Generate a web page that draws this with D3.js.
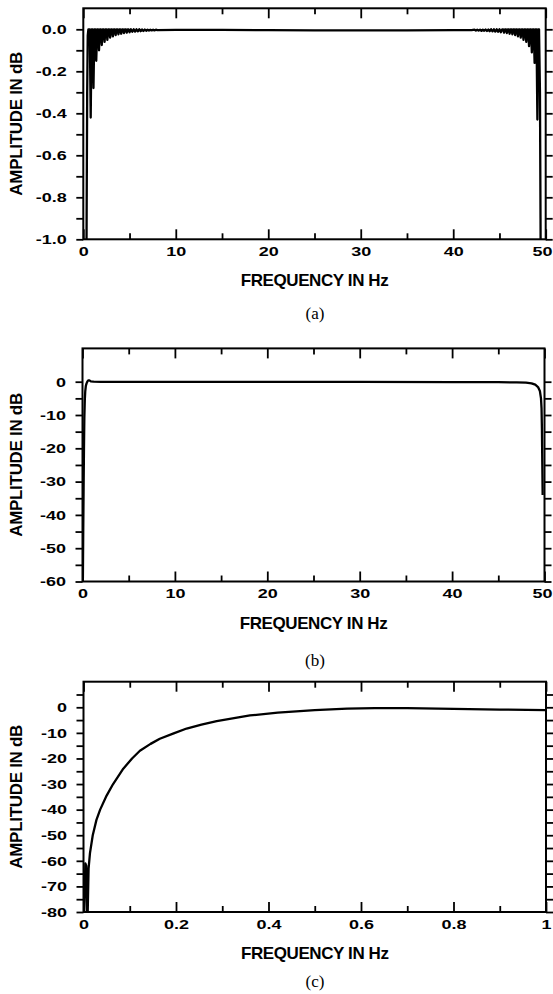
<!DOCTYPE html>
<html>
<head>
<meta charset="utf-8">
<script src="https://cdn.jsdelivr.net/npm/d3@7"></script>
<style>
html,body{margin:0;padding:0;background:#fff;}
svg{display:block;}
</style>
</head>
<body>
<script>
// ---------------- DATA ----------------
// Panel (a): amplitude in dB (zoomed passband)
const freqA = [0.30,0.36,0.42,0.48,0.55,0.70,0.80,0.90,1.00,1.10,1.20,1.30,1.40,1.50,1.60,1.70,1.80,1.90,2.00,2.10,2.20,2.30,2.40,2.50,2.60,2.70,2.80,2.90,3.00,3.10,3.20,3.30,3.40,3.50,3.60,3.70,3.80,3.90,4.00,4.10,4.20,4.30,4.40,4.50,4.60,4.70,4.80,4.90,5.00,5.15,5.30,5.45,5.60,5.75,5.90,6.05,6.20,6.35,6.50,6.65,6.80,6.95,7.10,7.25,7.40,7.55,7.70,7.85,8.00,
  10,15,20,25,30,35,40,42.0,
  42.30,42.45,42.60,42.75,42.90,43.05,43.20,43.35,43.50,43.65,43.80,43.95,44.10,44.25,44.40,44.55,44.70,44.85,45.00,45.15,45.30,45.40,45.50,45.60,45.70,45.80,45.90,46.00,46.10,46.20,46.30,46.40,46.50,46.60,46.70,46.80,46.90,47.00,47.10,47.20,47.30,47.40,47.50,47.60,47.70,47.80,47.90,48.00,48.10,48.20,48.30,48.40,48.50,48.60,48.70,48.80,48.90,49.00,49.10,49.20,49.28,49.38,49.44,49.50];
const dbA = [-1.6,-0.9,-0.3,-0.03,0,0,-0.42,0,0,-0.28,0,0,-0.15,0,0,-0.10,0,0,-0.075,0,0,-0.06,0,0,-0.05,0,0,-0.04,0,0,-0.034,0,0,-0.028,0,0,-0.024,0,0,-0.021,0,0,-0.018,0,0,-0.016,0,0,-0.014,0,-0.012,0,-0.011,0,-0.010,0,-0.009,-0.001,-0.008,-0.001,-0.007,-0.002,-0.006,-0.002,-0.005,-0.002,-0.005,-0.002,-0.004,
  -0.003,-0.003,-0.004,-0.005,-0.005,-0.005,-0.004,-0.004,
  -0.002,-0.006,-0.002,-0.006,-0.002,-0.007,-0.002,-0.007,-0.001,-0.008,-0.001,-0.009,0,-0.010,0,-0.011,0,-0.012,0,-0.014,0,0,-0.016,0,0,-0.018,0,0,-0.021,0,0,-0.024,0,0,-0.028,0,0,-0.034,0,0,-0.04,0,0,-0.05,0,0,-0.06,0,0,-0.08,0,0,-0.11,0,0,-0.16,0,0,-0.43,0,0,-0.3,-0.9,-1.6];

// Panel (b): full amplitude in dB
const freqB = [0.04,0.08,0.12,0.16,0.20,0.25,0.30,0.36,0.44,0.52,0.62,0.75,0.90,1.2,2,5,10,20,30,40,45,47,48,48.6,49.0,49.3,49.5,49.62,49.68,49.72,49.76,49.80];
const dbB = [-60,-45,-32,-20,-11,-5.5,-2.8,-1.3,-0.5,0,0.4,0.4,0.1,0,-0.05,-0.05,-0.05,-0.05,-0.05,-0.1,-0.15,-0.2,-0.3,-0.5,-0.9,-1.6,-2.8,-5,-8,-14,-24,-34];

// Panel (c): amplitude in dB, 0-1 Hz
const freqC = [0.001,0.004,0.006,0.0085,0.011,0.014,0.020,0.028,0.036,0.050,0.064,0.086,0.105,0.122,0.145,0.165,0.195,0.223,0.255,0.288,0.36,0.42,0.50,0.57,0.63,0.70,0.80,0.90,1.00];
const dbC = [-85,-61,-62,-85,-63,-57,-50,-44,-40,-34.5,-30,-24,-20,-17,-14.3,-12.3,-10.2,-8.3,-6.8,-5.4,-3.2,-2.1,-1.1,-0.5,-0.3,-0.35,-0.6,-0.9,-1.1];

// Tick values and labels
const xMajorHz = [0,10,20,30,40,50];
const xMinorHz = [5,15,25,35,45];
const xLabelsHz = ["0","10","20","30","40","50"];
const xMajorC = [0,0.2,0.4,0.6,0.8,1];
const xMinorC = [0.1,0.3,0.5,0.7,0.9];
const xLabelsC = ["0","0.2","0.4","0.6","0.8","1"];

const yMajorA = [0,-0.2,-0.4,-0.6,-0.8,-1.0];
const yMinorA = [-0.1,-0.3,-0.5,-0.7,-0.9];
const yLabelsA = ["0.0","-0.2","-0.4","-0.6","-0.8","-1.0"];
const yMajorB = [0,-10,-20,-30,-40,-50,-60];
const yMinorB = [-5,-15,-25,-35,-45,-55];
const yLabelsB = ["0","-10","-20","-30","-40","-50","-60"];
const yMajorC = [0,-10,-20,-30,-40,-50,-60,-70,-80];
const yMinorC = [5,-5,-15,-25,-35,-45,-55,-65,-75];
const yLabelsC = ["0","-10","-20","-30","-40","-50","-60","-70","-80"];

const xTitle = "FREQUENCY IN Hz";
const yTitle = "AMPLITUDE IN dB";
const captions = ["(a)","(b)","(c)"];

// ---------------- DRAWING ----------------
const W = 553, H = 994;
const svg = d3.select("body").append("svg").attr("width", W).attr("height", H);
svg.append("rect").attr("width", W).attr("height", H).attr("fill", "#fff");
const SANS = "'Liberation Sans', Arial, Helvetica, sans-serif";
const SX = 1.5; // horizontal stretch of tick labels

function panel(o) {
  const x = d3.scaleLinear().domain(o.xDomain).range([o.left, o.right]);
  const y = d3.scaleLinear().domain(o.yDomain).range([o.bottom, o.top]);
  const g = svg.append("g");

  const clipId = "clip" + o.key;
  g.append("clipPath").attr("id", clipId).append("rect")
    .attr("x", o.left).attr("y", o.top)
    .attr("width", o.right - o.left).attr("height", o.bottom - o.top);

  // curve
  g.append("path")
    .datum(d3.zip(o.fx, o.fy))
    .attr("clip-path", `url(#${clipId})`)
    .attr("fill", "none").attr("stroke", "#000")
    .attr("stroke-width", 2.3).attr("stroke-linejoin", "round")
    .attr("d", d3.line().x(d => x(d[0])).y(d => y(d[1])));

  const style = sel => {
    sel.select(".domain").remove();
    sel.selectAll("line").attr("stroke", "#000").attr("stroke-width", 1.8);
  };
  // bottom axis (inward ticks)
  const gb = g.append("g").attr("transform", `translate(0,${o.bottom})`)
    .call(d3.axisBottom(x).tickValues(o.xMajor).tickSize(-10).tickFormat((d, i) => o.xLabels[i]));
  style(gb);
  gb.selectAll("text")
    .attr("y", 8.2).attr("dy", "0.71em")
    .attr("transform", "scale(" + SX + ",1)")
    .style("font-family", SANS).style("font-weight", "bold").style("font-size", "12px").attr("fill", "#000");
  // keep the last label inside the picture
  gb.selectAll(".tick").each(function(d) {
    const t = d3.select(this).select("text");
    const w = this.querySelector("text").getComputedTextLength() * SX;
    const px = x(d);
    if (px + w / 2 > W - 1) {
      t.attr("text-anchor", "end").attr("x", (W - 1 - px) / SX);
    }
  });
  style(g.append("g").attr("transform", `translate(0,${o.bottom})`)
    .call(d3.axisBottom(x).tickValues(o.xMinor).tickSize(-6).tickFormat("")));
  // top axis (inward ticks)
  style(g.append("g").attr("transform", `translate(0,${o.top})`)
    .call(d3.axisTop(x).tickValues(o.xMajor).tickSize(-10).tickFormat("")));
  style(g.append("g").attr("transform", `translate(0,${o.top})`)
    .call(d3.axisTop(x).tickValues(o.xMinor).tickSize(-6).tickFormat("")));
  // left axis (outward ticks)
  const gl = g.append("g").attr("transform", `translate(${o.left},0)`)
    .call(d3.axisLeft(y).tickValues(o.yMajor).tickSize(7).tickFormat((d, i) => o.yLabels[i]));
  style(gl);
  gl.selectAll("text")
    .attr("x", -16.5 / SX).attr("dy", "0.36em")
    .attr("transform", "scale(" + SX + ",1)")
    .style("font-family", SANS).style("font-weight", "bold").style("font-size", "12px").attr("fill", "#000");
  style(g.append("g").attr("transform", `translate(${o.left},0)`)
    .call(d3.axisLeft(y).tickValues(o.yMinor).tickSize(7).tickFormat("")));
  // right axis (outward ticks)
  style(g.append("g").attr("transform", `translate(${o.right},0)`)
    .call(d3.axisRight(y).tickValues(o.yMajor.concat(o.yMinor)).tickSize(7).tickFormat("")));

  // frame
  g.append("rect").attr("x", o.left).attr("y", o.top)
    .attr("width", o.right - o.left).attr("height", o.bottom - o.top)
    .attr("fill", "none").attr("stroke", "#000").attr("stroke-width", 2);

  // x title
  g.append("text").attr("x", (o.left + o.right) / 2).attr("y", o.bottom + 47)
    .attr("text-anchor", "middle")
    .style("font-family", SANS).style("font-weight", "bold").style("font-size", "17px")
    .style("letter-spacing", "-0.4px")
    .text(xTitle);
  // y title, centred on the plot
  g.append("text")
    .attr("transform", `translate(22,${(o.top + o.bottom) / 2}) rotate(-90)`)
    .attr("text-anchor", "middle")
    .style("font-family", SANS).style("font-weight", "bold").style("font-size", "17px")
    .style("letter-spacing", "-0.3px")
    .text(yTitle);
  // caption
  g.append("text").attr("x", 315).attr("y", o.capY)
    .attr("text-anchor", "middle")
    .style("font-family", "'Liberation Serif', 'Times New Roman', serif").style("font-size", "17px")
    .text(o.caption);
}

panel({key: "a", fx: freqA, fy: dbA, xDomain: [0, 50], yDomain: [-1.0, 0.1],
  left: 83.3, right: 545.7, top: 8.3, bottom: 239.3,
  xMajor: xMajorHz, xMinor: xMinorHz, xLabels: xLabelsHz,
  yMajor: yMajorA, yMinor: yMinorA, yLabels: yLabelsA,
  capY: 319, caption: captions[0]});

panel({key: "b", fx: freqB, fy: dbB, xDomain: [0, 50], yDomain: [-60, 10],
  left: 82.5, right: 544.5, top: 348.4, bottom: 581.5,
  xMajor: xMajorHz, xMinor: xMinorHz, xLabels: xLabelsHz,
  yMajor: yMajorB, yMinor: yMinorB, yLabels: yLabelsB,
  capY: 666, caption: captions[1]});

panel({key: "c", fx: freqC, fy: dbC, xDomain: [0, 1], yDomain: [-80, 10],
  left: 83.5, right: 546, top: 681.7, bottom: 912,
  xMajor: xMajorC, xMinor: xMinorC, xLabels: xLabelsC,
  yMajor: yMajorC, yMinor: yMinorC, yLabels: yLabelsC,
  capY: 987, caption: captions[2]});
</script>
</body>
</html>
